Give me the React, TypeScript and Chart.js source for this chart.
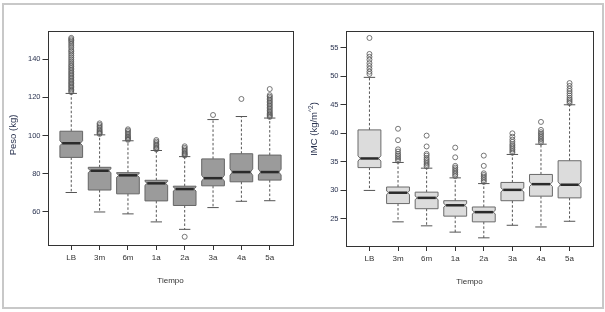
import React, { useEffect, useRef } from "react";
import { Chart, registerables } from "chart.js";
Chart.register(...registerables);

const categories = ["LB", "3m", "6m", "1a", "2a", "3a", "4a", "5a"];

// Peso (kg)
const pesoLow = [70.2, 60.0, 59.0, 54.8, 50.9, 62.3, 65.6, 65.9];
const pesoQ1 = [88.6, 71.5, 69.5, 65.8, 63.4, 73.7, 75.8, 76.7];
const pesoMedian = [96.0, 81.6, 79.2, 75.0, 72.0, 77.7, 80.9, 80.9];
const pesoQ3 = [102.3, 83.4, 80.6, 76.6, 73.5, 87.8, 90.5, 89.8];
const pesoHigh = [122.1, 100.4, 97.3, 92.2, 89.0, 108.4, 110.0, 109.2];
const pesoNotch = [1.3, 1.0, 1.0, 1.0, 1.0, 1.5, 1.7, 1.5];
const pesoOutliers = [
  [122.8, 123.5, 124.2, 125.0, 125.8, 126.5, 127.3, 128.0, 128.8, 129.6, 130.4, 131.2, 132.0, 132.8, 133.6, 134.5, 135.3, 136.2, 137.0, 138.0, 139.0, 140.0, 141.0, 142.0, 143.0, 144.0, 144.8, 146.0, 147.0, 148.0, 149.0, 149.8, 150.5, 151.2],
  [100.9, 101.4, 101.9, 102.5, 103.2, 104.0, 104.8, 105.6, 106.4],
  [97.8, 98.3, 98.9, 99.5, 100.2, 101.0, 101.8, 102.6, 103.3],
  [92.8, 93.3, 93.9, 94.6, 95.3, 96.1, 96.9, 97.7],
  [47.0, 89.6, 90.1, 90.7, 91.3, 92.0, 92.8, 93.6, 94.4],
  [110.8],
  [119.2],
  [109.8, 110.4, 111.0, 111.7, 112.4, 113.2, 114.0, 114.8, 115.6, 116.4, 117.2, 118.0, 118.8, 119.6, 120.4, 121.2, 124.4],
];
const pesoTicks = [60, 80, 100, 120, 140];

// IMC (kg/m^2)
const imcLow = [30.0, 24.5, 23.8, 22.7, 21.7, 23.9, 23.6, 24.6];
const imcQ1 = [34.0, 27.7, 26.8, 25.5, 24.5, 28.2, 29.0, 28.7];
const imcMedian = [35.6, 29.6, 28.7, 27.4, 26.2, 30.1, 31.1, 31.0];
const imcQ3 = [40.6, 30.6, 29.7, 28.2, 27.1, 31.4, 32.8, 35.2];
const imcHigh = [49.8, 34.9, 33.9, 32.2, 31.2, 36.3, 38.1, 45.0];
const imcNotch = [0.45, 0.3, 0.3, 0.3, 0.3, 0.35, 0.4, 0.5];
const imcOutliers = [
  [50.4, 50.8, 51.3, 51.8, 52.3, 52.9, 53.4, 53.9, 56.7],
  [35.2, 35.5, 35.8, 36.1, 36.4, 36.8, 37.2, 38.8, 40.8],
  [34.2, 34.5, 34.8, 35.1, 35.4, 35.7, 36.1, 36.4, 37.7, 39.6],
  [32.5, 32.8, 33.1, 33.4, 33.7, 34.0, 34.3, 35.8, 37.5],
  [31.5, 31.8, 32.1, 32.4, 32.7, 33.0, 34.3, 36.1],
  [36.6, 36.9, 37.2, 37.5, 37.8, 38.1, 38.5, 38.9, 39.4, 40.0],
  [38.4, 38.7, 39.0, 39.3, 39.6, 39.9, 40.2, 40.6, 42.0],
  [45.3, 45.6, 45.9, 46.2, 46.6, 47.0, 47.4, 47.8, 48.3, 48.8],
];
const imcTicks = [25, 30, 35, 40, 45, 50, 55];

const FONT = "'Liberation Sans', Arial, Helvetica, sans-serif";
const TEXT_DARK = "#2a3350";

type Stats = {
  low: number[]; q1: number[]; med: number[]; q3: number[]; high: number[]; notch: number[];
};

type PanelStyle = {
  fill: string;
  stroke: string;
  titleParts: { text: string; sup?: boolean }[];
  titleX: number;
  titleY: number;
};

function makeBoxPlugin(stats: Stats, style: PanelStyle) {
  return {
    id: "notchedBoxes",
    beforeDatasetsDraw(chart: any) {
      const { ctx, scales } = chart;
      const x = scales.x, y = scales.y;
      const halfW = 0.4, capHalf = 0.2, depth = 0.2;
      ctx.save();
      for (let i = 0; i < categories.length; i++) {
        const c = i + 1;
        const xl = x.getPixelForValue(c - halfW);
        const xr = x.getPixelForValue(c + halfW);
        const xc = x.getPixelForValue(c);
        const inset = ((xr - xl) / 2) * depth;
        const yLow = y.getPixelForValue(stats.low[i]);
        const yQ1 = y.getPixelForValue(stats.q1[i]);
        const yMed = y.getPixelForValue(stats.med[i]);
        const yQ3 = y.getPixelForValue(stats.q3[i]);
        const yHigh = y.getPixelForValue(stats.high[i]);
        const yNlo = y.getPixelForValue(stats.med[i] - stats.notch[i]);
        const yNhi = y.getPixelForValue(stats.med[i] + stats.notch[i]);

        // whiskers
        ctx.strokeStyle = "#555";
        ctx.lineWidth = 1;
        ctx.setLineDash([2.5, 2]);
        ctx.beginPath();
        ctx.moveTo(xc, yQ3);
        ctx.lineTo(xc, yHigh);
        ctx.moveTo(xc, yQ1);
        ctx.lineTo(xc, yLow);
        ctx.stroke();
        ctx.setLineDash([]);
        const cl = x.getPixelForValue(c - capHalf);
        const cr = x.getPixelForValue(c + capHalf);
        ctx.beginPath();
        ctx.moveTo(cl, yHigh);
        ctx.lineTo(cr, yHigh);
        ctx.moveTo(cl, yLow);
        ctx.lineTo(cr, yLow);
        ctx.stroke();

        // notched box
        ctx.beginPath();
        ctx.moveTo(xl, yQ1);
        ctx.lineTo(xr, yQ1);
        ctx.lineTo(xr, yNlo);
        ctx.lineTo(xr - inset, yMed);
        ctx.lineTo(xr, yNhi);
        ctx.lineTo(xr, yQ3);
        ctx.lineTo(xl, yQ3);
        ctx.lineTo(xl, yNhi);
        ctx.lineTo(xl + inset, yMed);
        ctx.lineTo(xl, yNlo);
        ctx.closePath();
        ctx.fillStyle = style.fill;
        ctx.fill();
        ctx.strokeStyle = style.stroke;
        ctx.lineWidth = 1;
        ctx.stroke();

        // median
        ctx.strokeStyle = "#2b2b2b";
        ctx.lineWidth = 2.5;
        ctx.beginPath();
        ctx.moveTo(xl + inset, yMed);
        ctx.lineTo(xr - inset, yMed);
        ctx.stroke();
      }
      ctx.restore();
    },
    afterDraw(chart: any) {
      const { ctx, chartArea } = chart;
      ctx.save();
      ctx.strokeStyle = "#333";
      ctx.lineWidth = 1;
      ctx.strokeRect(
        Math.round(chartArea.left) + 0.5,
        Math.round(chartArea.top) + 0.5,
        Math.round(chartArea.right - chartArea.left),
        Math.round(chartArea.bottom - chartArea.top)
      );
      // y axis title (rotated, with optional superscript)
      ctx.translate(style.titleX, style.titleY);
      ctx.rotate(-Math.PI / 2);
      ctx.fillStyle = TEXT_DARK;
      ctx.textBaseline = "middle";
      ctx.textAlign = "left";
      const mainFont = `9.5px ${FONT}`;
      const supFont = `6.5px ${FONT}`;
      let total = 0;
      for (const p of style.titleParts) {
        ctx.font = p.sup ? supFont : mainFont;
        total += ctx.measureText(p.text).width;
      }
      let cx = -total / 2;
      for (const p of style.titleParts) {
        ctx.font = p.sup ? supFont : mainFont;
        ctx.fillText(p.text, cx, p.sup ? -3 : 0);
        cx += ctx.measureText(p.text).width;
      }
      ctx.restore();
    },
  };
}

function makeConfig(
  stats: Stats,
  outliers: number[][],
  yMin: number,
  yMax: number,
  yTicks: number[],
  padding: { left: number; right: number; top: number; bottom: number },
  style: PanelStyle
): any {
  const points = outliers.flatMap((arr, i) => arr.map((v) => ({ x: i + 1, y: v })));
  return {
    type: "scatter",
    data: {
      datasets: [
        {
          label: "outliers",
          data: points,
          pointStyle: "circle",
          pointRadius: 2.5,
          pointBorderWidth: 0.8,
          pointBorderColor: "#555",
          pointBackgroundColor: "rgba(0,0,0,0)",
          showLine: false,
        },
      ],
    },
    options: {
      animation: false,
      responsive: false,
      devicePixelRatio: 1,
      layout: { padding },
      plugins: {
        legend: { display: false },
        tooltip: { enabled: false },
        title: { display: false },
      },
      scales: {
        x: {
          type: "linear",
          min: 0.18,
          max: 8.82,
          afterBuildTicks: (s: any) => {
            s.ticks = categories.map((_, i) => ({ value: i + 1 }));
          },
          afterFit: (s: any) => {
            s.height = 50;
          },
          ticks: {
            autoSkip: false,
            maxRotation: 0,
            minRotation: 0,
            padding: 3,
            color: "#333",
            font: { family: FONT, size: 8 },
            callback: (_v: any, i: number) => categories[i],
          },
          grid: { drawOnChartArea: false, drawTicks: true, tickLength: 5, color: "#333" },
          border: { display: false },
          title: {
            display: true,
            text: "Tiempo",
            color: "#333",
            font: { family: FONT, size: 8 },
            padding: { top: 0, bottom: 9 },
          },
        },
        y: {
          type: "linear",
          min: yMin,
          max: yMax,
          afterBuildTicks: (s: any) => {
            s.ticks = yTicks.map((v) => ({ value: v }));
          },
          afterFit: (s: any) => {
            s.width = 40;
          },
          ticks: {
            padding: 2,
            color: TEXT_DARK,
            font: { family: FONT, size: 7.5 },
          },
          grid: { drawOnChartArea: false, drawTicks: true, tickLength: 5.5, color: "#333" },
          border: { display: false },
          title: { display: false },
        },
      },
    },
    plugins: [makeBoxPlugin(stats, style)],
  };
}

function Panel(props: { config: () => any; left: number; width: number }) {
  const ref = useRef<HTMLCanvasElement | null>(null);
  useEffect(() => {
    if (!ref.current) return;
    const chart = new Chart(ref.current, props.config());
    return () => chart.destroy();
  }, []);
  return (
    <canvas
      ref={ref}
      width={props.width}
      height={312}
      style={{ position: "absolute", left: props.left, top: 0, width: props.width, height: 312 }}
    />
  );
}

export default function App() {
  const pesoStats: Stats = { low: pesoLow, q1: pesoQ1, med: pesoMedian, q3: pesoQ3, high: pesoHigh, notch: pesoNotch };
  const imcStats: Stats = { low: imcLow, q1: imcQ1, med: imcMedian, q3: imcQ3, high: imcHigh, notch: imcNotch };
  return (
    <div style={{ position: "fixed", left: 0, top: 0, width: 605, height: 312, background: "#fff", overflow: "hidden" }}>
      <div
        style={{
          position: "absolute",
          left: 2,
          top: 3,
          width: 598,
          height: 302,
          border: "2px solid #c8c8c8",
        }}
      />
      <Panel
        left={0}
        width={302}
        config={() =>
          makeConfig(pesoStats, pesoOutliers, 42.7, 154.8, pesoTicks, { left: 8, right: 9, top: 31, bottom: 17 }, {
            fill: "#9b9b9b",
            stroke: "#666",
            titleParts: [{ text: "Peso (kg)" }],
            titleX: 13.5,
            titleY: 135,
          })
        }
      />
      <Panel
        left={302}
        width={303}
        config={() =>
          makeConfig(imcStats, imcOutliers, 20.27, 57.92, imcTicks, { left: 4, right: 12, top: 31, bottom: 16 }, {
            fill: "#dcdcdc",
            stroke: "#6a6a6a",
            titleParts: [{ text: "IMC (kg/m" }, { text: "^2", sup: true }, { text: ")" }],
            titleX: 12,
            titleY: 129,
          })
        }
      />
    </div>
  );
}
